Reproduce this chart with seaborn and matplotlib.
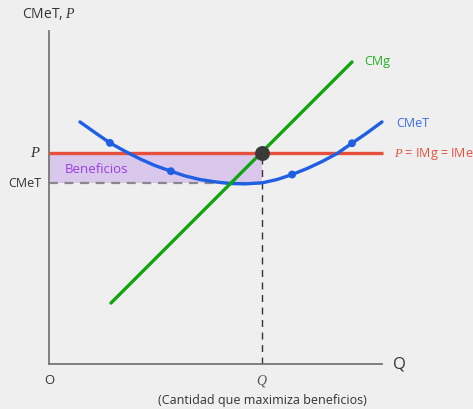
import numpy as np
import pandas as pd
import seaborn as sns
import matplotlib.pyplot as plt

# curva de costo medio total (CMeT)
cmet_q = [9.3, 13.8, 18.3, 22.8, 27.3, 31.8, 36.6, 40.8, 45.3, 49.8, 54.4,
          58.9, 64.0, 68.5, 73.0, 77.5, 82.0, 86.5, 91.0, 95.5, 100.0]
cmet_c = [72.7, 69.5, 66.4, 63.9, 61.6, 59.6, 57.9, 56.5, 55.4, 54.7, 54.2,
          54.1, 54.4, 55.4, 56.9, 58.7, 60.8, 63.2, 66.3, 69.4, 72.7]
cmet_dot_q = [18.3, 36.6, 73.0, 91.0]
cmet_dot_c = [66.4, 57.9, 56.9, 66.3]

# costo marginal (CMg)
cmg_q = [18.6, 91.0]
cmg_c = [18.3, 90.7]

# precio y cantidad óptima
precio = 63.5
q_opt = 64.0
cmet_opt = 54.4
q_max = 100.3

BG = "#efefef"
AXIS = "#777777"
BLUE = "#1f5fe3"
RED = "#e8503e"
GREEN = "#11a511"
PURPLE_FILL = "#d9c8ec"
PURPLE_TXT = "#9a3ee0"

sns.set_style("white")
plt.rcParams["font.family"] = ["Open Sans", "DejaVu Sans"]
plt.rcParams["mathtext.fontset"] = "custom"
plt.rcParams["mathtext.it"] = "Liberation Serif:italic"
plt.rcParams["mathtext.rm"] = "Open Sans"

fig = plt.figure(figsize=(4.73, 4.10), dpi=100, facecolor=BG)
ax = fig.add_axes([49 / 473, 45 / 410, 333 / 473, 333 / 410])
ax.set_facecolor(BG)
ax.set_xlim(0, 100)
ax.set_ylim(0, 100)

# área de beneficios
ax.fill_between([0, q_opt], cmet_opt, precio, color=PURPLE_FILL, lw=0, zorder=1)
ax.plot([0, q_opt], [cmet_opt, cmet_opt], color="#888888", lw=1.6,
        dashes=(4, 3), zorder=2, clip_on=False)
ax.plot([q_opt, q_opt], [0, precio], color="#333333", lw=1.0,
        dashes=(5, 4), zorder=2)

# precio = IMg = IMe
ax.plot([0, q_max], [precio, precio], color=RED, lw=2.4, zorder=3,
        clip_on=False, solid_capstyle="butt")

# CMeT
df_cmet = pd.DataFrame({"q": cmet_q, "c": cmet_c})
sns.lineplot(data=df_cmet, x="q", y="c", ax=ax, color=BLUE, lw=2.4,
             sort=False, zorder=4, clip_on=False)
sns.scatterplot(x=cmet_dot_q, y=cmet_dot_c, ax=ax, color=BLUE, s=32,
                edgecolor="none", zorder=5, clip_on=False)

# CMg
sns.lineplot(x=cmg_q, y=cmg_c, ax=ax, color=GREEN, lw=2.4, zorder=5)

# punto óptimo
ax.scatter([q_opt], [precio], s=95, color="#3a3a3a", zorder=6, clip_on=False)

# ejes
for side in ["top", "right"]:
    ax.spines[side].set_visible(False)
for side in ["left", "bottom"]:
    ax.spines[side].set_color(AXIS)
    ax.spines[side].set_linewidth(1.3)
ax.set_xticks([])
ax.set_yticks([])
ax.set_xlabel("")
ax.set_ylabel("")

txt = dict(clip_on=False, va="center")
ax.text(0, 105.4, "CMeT, $P$", ha="center", fontsize=10, color="#333333", **txt)
ax.text(-2.4, precio, "$P$", ha="right", fontsize=10.5, color="#333333", **txt)
ax.text(-2.4, cmet_opt, "CMeT", ha="right", fontsize=9, color="#333333", **txt)
ax.text(4.8, 58.6, "Beneficios", ha="left", fontsize=9.5, color=PURPLE_TXT, **txt)
ax.text(94.6, 91.0, "CMg", ha="left", fontsize=9, color="#22b022", **txt)
ax.text(104.2, 72.4, "CMeT", ha="left", fontsize=9, color="#3a6fe8", **txt)
ax.text(103.6, precio, "$P$ = IMg = IMe", ha="left", fontsize=9, color=RED, **txt)
ax.text(103.3, 0, "Q", ha="left", fontsize=12, color="#333333", **txt)
ax.text(0, -4.8, "O", ha="center", fontsize=9.5, color="#333333", **txt)
ax.text(q_opt, -4.8, "$Q$", ha="center", fontsize=10, color="#555555", **txt)
ax.text(q_opt, -10.8, "(Cantidad que maximiza beneficios)", ha="center",
        fontsize=9, color="#333333", **txt)

fig.savefig("out.png", dpi=100, facecolor=BG)
